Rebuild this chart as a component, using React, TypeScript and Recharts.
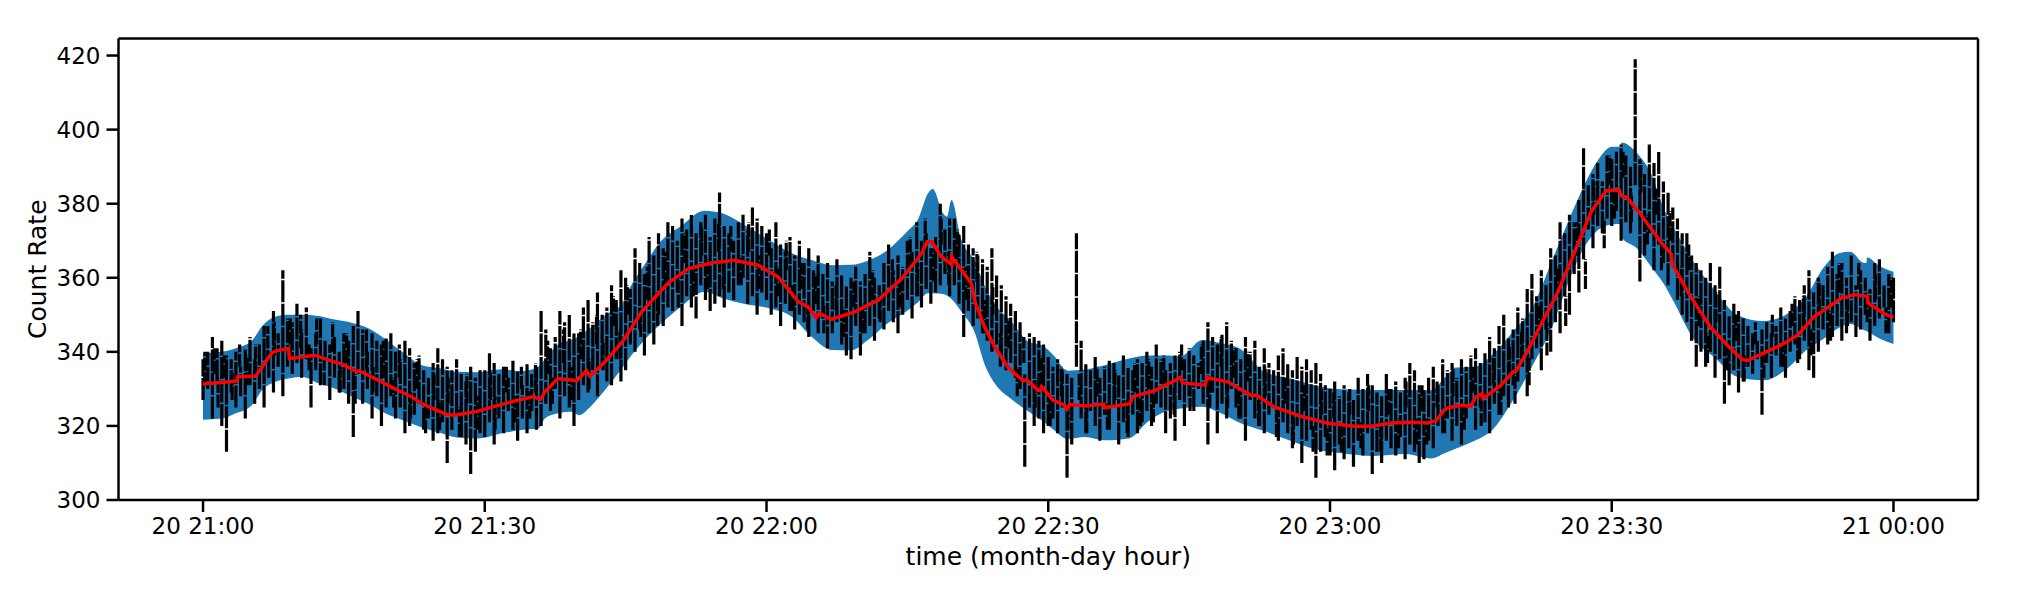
import React from "react";
import { ComposedChart, Area, Line, XAxis, YAxis, Label } from "recharts";

const FONT = "'DejaVu Sans', sans-serif";
const BLUE = "#1f77b4";

// axis ticks: minutes after 20 21:00
const xTicks = [0, 30, 60, 90, 120, 150, 180];
const xTickLabels = ["20 21:00", "20 21:30", "20 22:00", "20 22:30", "20 23:00", "20 23:30", "21 00:00"];
const yTicks = [300, 320, 340, 360, 380, 400, 420];

// spread band: minute, lower edge, upper edge
const bandTimes = [0,2,3.5,5.2,6.3,7.7,9.1,10.5,12.3,14,15.9,17.6,19.4,21.2,23.3,25.4,27,29.3,31.8,33.9,35.7,36.4,37.8,39.3,40,41.4,42.8,44.6,45.6,47,48.8,50.9,53.4,55.3,57.7,60.4,62.7,64.8,67,69,70.8,72.9,75.1,76.1,77.2,77.7,78.8,79.2,79.7,80.7,82.2,83.2,84.3,86.2,87.9,89.3,90.7,91.8,92.1,93.9,96,98.6,100.6,102.4,104.1,106.4,108.4,110.5,113,115.8,118.3,121.2,124.7,128,130.8,132.2,133.5,135.4,137.3,139.6,141.5,143.7,145.5,147,148.6,150,151,151.01,152.7,154.2,155.5,156.6,158.8,160.9,163.4,166.2,168.7,170.7,172.6,174.2,175.4,176.9,177.1,177.2,178.5,180];
const bandLow = [321.7,322,323.4,325.6,329.7,331.9,332.8,333.3,331.5,330.1,327.9,326,323.4,321.6,319.6,318,316.9,316.6,318,318.9,319.3,322,323.4,323.8,322.9,325.6,329.7,335.5,339,343.2,347.7,352.2,356.2,354.5,352.9,351.7,349.5,344.1,340.5,340.4,343.2,347.7,351.3,353.3,355.8,355.8,355.6,355.2,354.3,351,345,336.8,331.5,327,323.9,321.5,318.7,316.6,316.5,317,316.1,316.6,321.1,323.8,324.7,325.2,323.4,320.7,318.6,316,313.8,312.6,311.9,312.4,311.2,312.6,314,316,319,327.4,336,347,359.5,367.9,373,374.4,374.5,371.1,367.9,363,358.5,353.5,343.1,338.6,333.2,332.3,335.5,340.4,343.6,346.5,347.5,345.8,345.6,345.5,343.6,342.1];
const bandHigh = [339.6,340,341,343,347,349.5,350,350,349.7,348.7,347.8,346.4,343.5,340,336.4,335.5,334.6,334.5,335.3,334.8,336,338,342,343.3,344.3,346.8,349.9,353,358,363.5,370,374,378.1,377.4,374.2,370,366.6,364.8,363.4,363.5,364.6,367.5,372.8,375.6,382.8,384,377.4,376.5,381,370.6,364.4,358,353,347.8,342.7,341.8,338.7,335.2,334.9,335.2,336.4,338.2,339,339,338.8,343.2,342.3,340.7,334.6,332.8,331,329.9,329.7,329.7,329.6,333,335.8,335.9,339.2,345.8,351.7,365,376,384.6,392,395.4,395.4,396.5,393.6,388,379,373.5,364,356.8,349.9,348.3,350.3,354.9,362.9,366.6,367,364,364,365.5,363.2,361.6];

// smoothed rate: minute, value
const rateTimes = [0,0.5,1,3.6,3.7,5.6,7.3,7.7,9.1,9.2,11.9,13.7,14.8,16.4,16.6,18.3,20.1,22.2,23.3,25.8,26.8,29.3,31.5,33.6,35.2,35.9,36.4,37.8,39.8,40.8,41.2,42.8,43.9,44.8,46.7,49.5,51.7,54.1,56.6,59.1,61.2,63.4,64.4,65.3,65.6,66.9,69.4,71.9,74.4,76.1,76.6,77.1,77.6,78.6,79.7,79.71,81.8,82.2,83.2,84.3,85.7,87.3,87.7,88.9,89.1,89.3,90.5,91.7,92,92.3,93.9,95.9,96,98.7,99,101.3,104.1,104.3,106.7,106.9,109.1,111.6,112.2,114,116.9,119.8,122.6,124.4,126.5,128.7,130.4,131.3,132.2,132.7,134,135,135.5,136.2,136.3,138.2,139.5,139.8,141,142.5,144.2,146,147.8,149.4,150.8,151,151.6,153,155.2,156.3,156.5,158.4,160.5,162.3,163.9,164.5,168,169.8,171.5,174.7,175,175.8,177.2,177.3,179,180];
const rateValues = [331.2,331.6,331.5,332.1,333.3,333.4,339.6,340.2,340.9,338.2,339.1,337.5,336.7,334.6,334.9,332.8,330.4,327.9,326,323.2,322.9,324,325.6,327,327.9,327.1,329.2,332.8,332.2,334.9,333.4,337.3,340.5,343.2,350.8,358.5,362.5,364,364.7,363.4,360.3,353.5,352.2,349.2,350.4,348.8,350.8,354,359.8,365.2,367,369.7,369.7,365.7,363.6,365.7,358.5,353.5,346.8,341.3,335.9,332.2,332.5,329.6,329.6,330.6,327,325.6,324.5,325.8,325.4,325.9,324.9,326,327.9,329.5,333.1,331.6,331,333,331.9,328.3,328.3,325.2,322.6,320.7,319.9,319.9,320.8,321,320.8,321.4,324.4,325,325.6,325.3,327.8,328.7,327.4,331,334.6,334.8,340,347.6,355.8,366.6,377.8,383.5,383.7,382.1,381.7,377.4,369.7,366.6,363.4,354.9,346.7,341.8,337.9,337.7,341.8,344.5,349.4,354.9,354.7,355.5,355,353.2,350.3,349.3];

// observed counts: top and bottom of each half-minute streak, 20 per row = 10 minutes
const streakHigh = [
338,340,344,341,343,339,338,340,336,341,344,338,342,347,340,351,345,362,349,348,
353,346,352,341,345,349,343,342,344,340,345,343,347,351,346,340,345,343,342,344,
345,340,338,343,341,337,339,335,333,337,341,338,336,335,338,334,332,336,333,335,
335,340,337,334,336,333,338,335,331,337,334,336,351,346,341,344,351,348,350,345,
345,352,354,348,356,350,352,358,354,362,360,357,368,364,361,371,366,372,368,375,
374,370,376,373,377,372,375,377,371,376,383,374,372,370,375,377,373,379,376,374,
372,368,375,369,367,371,366,370,364,368,362,366,361,364,359,365,361,358,360,363,
359,361,367,360,358,364,369,362,366,363,370,367,375,370,372,368,371,380,373,376,
376,372,374,369,368,366,365,363,368,361,358,355,353,351,348,334,345,344,343,342,
339,336,338,335,334,333,372,343,337,335,339,333,336,338,337,334,339,336,335,338,
337,340,336,342,338,335,337,339,340,338,341,339,337,343,348,344,342,345,348,343,
341,338,344,340,343,336,341,337,335,339,341,337,335,339,336,338,335,337,334,331,
330,332,328,331,329,327,333,330,334,331,329,328,334,330,332,329,333,337,335,331,
330,333,336,331,338,335,337,333,338,336,339,341,337,340,344,341,347,350,344,346,
352,349,357,361,355,362,358,368,366,375,372,377,375,381,395,385,388,391,386,393,
392,394,396,393,390,419,392,388,396,391,394,386,383,379,376,372,372,366,364,362,
360,364,358,363,354,350,353,351,349,347,345,343,346,348,345,347,352,349,351,355,
354,358,362,356,360,358,363,367,361,364,360,366,358,362,360,357,364,365,358,361,360,
];
const streakLow = [
327,330,322,332,320,313,329,325,328,322,331,326,330,325,333,329,336,328,336,334,
337,333,338,325,335,331,338,327,333,329,330,326,317,334,326,330,322,328,320,325,
328,322,325,318,320,323,326,319,322,316,318,321,310,319,323,317,315,307,313,318,
317,321,315,322,318,324,319,316,322,318,324,319,320,326,324,330,322,328,325,320,
327,331,329,335,328,336,332,331,338,332,335,342,340,346,339,345,342,350,347,352,
351,356,347,355,352,349,358,354,351,353,355,352,356,354,358,360,353,355,350,356,
354,350,352,347,353,351,346,350,348,344,351,345,349,341,345,348,342,339,338,347,
339,345,347,343,349,346,351,348,345,350,354,349,355,352,357,353,356,358,361,355,
358,353,344,351,347,349,345,343,340,342,338,335,337,333,330,309,325,320,322,318,
320,322,318,325,306,315,336,322,318,324,320,316,323,319,325,315,321,317,323,318,
321,324,320,326,325,318,322,316,327,320,328,324,330,326,315,329,318,326,322,330,
325,322,316,327,322,320,318,323,325,316,321,318,314,320,310,316,319,306,313,317,
312,308,315,311,314,309,316,312,318,307,313,310,316,314,312,317,311,315,313,310,
311,316,314,320,318,322,316,320,315,322,326,319,325,321,318,326,323,328,325,331,
332,336,328,338,341,335,346,340,348,345,355,350,361,356,365,373,368,374,372,376,
374,378,370,375,372,385,359,366,372,362,369,364,358,363,354,350,348,343,336,340,
336,340,333,338,326,331,335,329,332,336,334,338,323,337,333,339,336,333,340,342,
338,343,335,333,340,346,342,344,347,343,345,348,344,346,350,343,347,349,352,345,348,
];

// shorter streaks between those above, irregularly spaced; 11 per row = 10 minutes
const clusterTimes = [
0.2,1.2,1.6,2.3,3.1,3.9,4.7,5.6,6.9,7.6,9.3,
10.4,11.3,12.1,12.9,13.8,14.6,15.3,16.2,17.4,18.1,19.2,
20.3,20.9,22.1,22.8,23.7,24.6,25.2,26.1,27.3,28.1,29.2,
30.6,31.1,32.3,33.2,33.9,34.8,35.4,36.7,37.2,38.4,39.3,
40.2,41.1,41.9,42.6,43.7,44.4,45.2,46.6,47.3,48.4,49.2,
50.6,51.3,52.2,53.1,53.7,54.9,55.4,56.2,57.3,58.1,59.2,
60.3,61.2,62.1,62.8,63.7,64.4,65.2,66.1,67.4,68.2,69.3,
70.2,71.3,72.1,73.4,74.2,75.3,76.1,76.9,77.8,78.6,79.4,
80.3,81.2,82.4,83.2,84.1,84.9,85.8,86.7,87.4,88.6,89.3,
90.2,91.4,92.1,93.3,94.1,95.2,96.3,97.1,98.4,99.2,99.8,
100.7,101.2,102.3,103.4,104.2,105.1,106.3,107.2,108.4,109.1,109.7,
110.3,111.2,112.4,113.1,114.3,115.2,116.1,117.3,118.2,119.1,119.7,
120.4,121.2,122.1,123.3,124.1,125.4,126.2,127.3,128.1,129.2,129.8,
130.3,131.4,132.2,133.1,134.3,135.2,136.1,137.4,138.2,139.1,139.7,
140.4,141.2,142.3,143.1,144.2,145.1,146.3,147.2,148.1,149.2,149.8,
150.3,151.2,152.1,153.1,153.8,154.7,155.3,156.2,157.4,158.2,159.3,
160.2,161.1,162.3,163.2,164.1,165.3,166.2,167.1,168.3,169.2,169.8,
170.4,171.2,172.1,173.3,174.2,175.1,176.3,177.2,178.1,179.2,179.8,
];
const clusterLow = [
331,334,325,333,327,336,331,334,337,339,338,
341,335,342,331,340,329,337,326,335,329,333,
325,333,322,330,318,327,319,326,317,326,319,
327,319,329,321,330,322,329,334,326,337,327,
338,330,342,335,347,338,350,344,354,347,358,
352,364,355,366,357,367,357,367,358,367,357,
366,355,362,351,357,346,353,345,351,344,352,
345,354,348,358,352,363,355,368,359,369,358,
365,354,359,345,350,336,341,328,337,325,331,
320,328,319,327,318,328,319,327,318,329,320,
330,321,331,323,335,324,334,325,336,325,333,
322,332,320,328,317,326,315,324,313,323,312,
322,313,323,314,324,313,323,314,325,315,324,
315,325,318,328,319,329,320,331,323,334,326,
338,331,345,339,355,347,366,357,377,368,385,
376,387,375,383,369,377,362,370,355,362,347,
337,348,335,343,332,342,333,344,336,347,337,
347,339,351,343,356,347,357,348,354,345,352,
];
const clusterHigh = [
340,341,333,339,335,342,339,342,347,348,349,
350,342,349,339,348,336,345,334,346,336,343,
333,342,329,338,326,334,327,333,325,334,328,
335,328,336,328,336,330,337,343,333,346,336,
346,338,350,343,355,346,358,352,363,356,367,
361,372,363,374,365,375,364,374,366,375,366,
373,363,370,358,364,353,361,353,358,352,359,
353,362,356,365,360,371,364,376,368,376,367,
373,363,367,354,358,345,349,336,344,333,339,
328,336,326,334,325,336,326,335,327,337,328,
338,329,339,331,342,332,342,333,344,332,341,
330,340,327,336,325,333,323,331,320,330,320,
329,320,330,321,331,321,330,322,332,322,331,
322,332,325,336,326,336,328,339,331,342,334,
346,339,353,348,363,355,375,365,386,376,393,
384,394,383,391,377,384,370,378,363,369,355,
345,356,342,350,339,348,340,350,342,353,344,
355,346,359,351,364,355,364,356,361,352,360,
];

const STREAK_STEP = 0.5; // minutes between sampled streaks
// each streak is two points of one line, broken from the next by an empty row
const streakRows = streakHigh.flatMap((high, i) => [
  { t: i * STREAK_STEP, count: streakLow[i] },
  { t: i * STREAK_STEP, count: high },
  { t: i * STREAK_STEP, count: null },
]);
const clusterRows = clusterTimes.flatMap((t, i) => [
  { t, count: clusterLow[i] },
  { t, count: clusterHigh[i] },
  { t, count: null },
]);
const bandRows = bandTimes.map((t, i) => ({ t, band: [bandLow[i], bandHigh[i]] }));
const rateRows = rateTimes.map((t, i) => ({ t, rate: rateValues[i] }));

const tickStyle = { fontFamily: FONT, fontSize: 23, fill: "#000" };
const axisLine = { stroke: "#000", strokeWidth: 2.5 };
const tickLine = { stroke: "#000", strokeWidth: 2.5 };

export default function App() {
  return (
    <div style={{ position: "absolute", left: 0, top: 0 }}>
      <ComposedChart
        width={2020}
        height={595}
        margin={{ top: 37.5, right: 41, bottom: 0, left: 0 }}
      >
        <XAxis
          dataKey="t"
          type="number"
          scale="linear"
          domain={[-9, 189]}
          ticks={xTicks}
          interval={0}
          allowDataOverflow
          tickFormatter={(v: number) => xTickLabels[xTicks.indexOf(v)]}
          height={95}
          tick={tickStyle}
          tickSize={12}
          tickMargin={6}
          axisLine={axisLine}
          tickLine={tickLine}
        >
          <Label value="time (month-day hour)" position="insideBottom" offset={30} style={{ fontFamily: FONT, fontSize: 25, fill: "#000" }} />
        </XAxis>
        <XAxis xAxisId="top" orientation="top" type="number" domain={[-9, 189]} height={1} ticks={[0]} tick={false} tickLine={false} axisLine={axisLine} />
        <YAxis
          type="number"
          domain={[300, 424.6]}
          ticks={yTicks}
          interval={0}
          allowDataOverflow
          width={118.5}
          tick={tickStyle}
          tickSize={12}
          tickMargin={6}
          axisLine={axisLine}
          tickLine={tickLine}
        >
          <Label value="Count Rate" angle={-90} position="insideLeft" offset={37} style={{ fontFamily: FONT, fontSize: 25, fill: "#000", textAnchor: "middle" }} />
        </YAxis>
        <YAxis yAxisId="right" orientation="right" type="number" domain={[300, 424.6]} width={1} ticks={[300]} tick={false} tickLine={false} axisLine={axisLine} />
        <Area data={bandRows} dataKey="band" type="monotone" fill={BLUE} fillOpacity={1} stroke="none" dot={false} activeDot={false} isAnimationActive={false} />
        <Line data={streakRows} dataKey="count" type="linear" stroke="#000" strokeWidth={3.2} strokeDasharray="22 1.5" dot={false} activeDot={false} isAnimationActive={false} />
        <Line data={clusterRows} dataKey="count" type="linear" stroke="#000" strokeWidth={3.2} strokeDasharray="13 1.5" dot={false} activeDot={false} isAnimationActive={false} />
        <Line data={rateRows} dataKey="rate" type="linear" stroke="#ff0000" strokeWidth={3.5} dot={false} activeDot={false} isAnimationActive={false} />
      </ComposedChart>
    </div>
  );
}
